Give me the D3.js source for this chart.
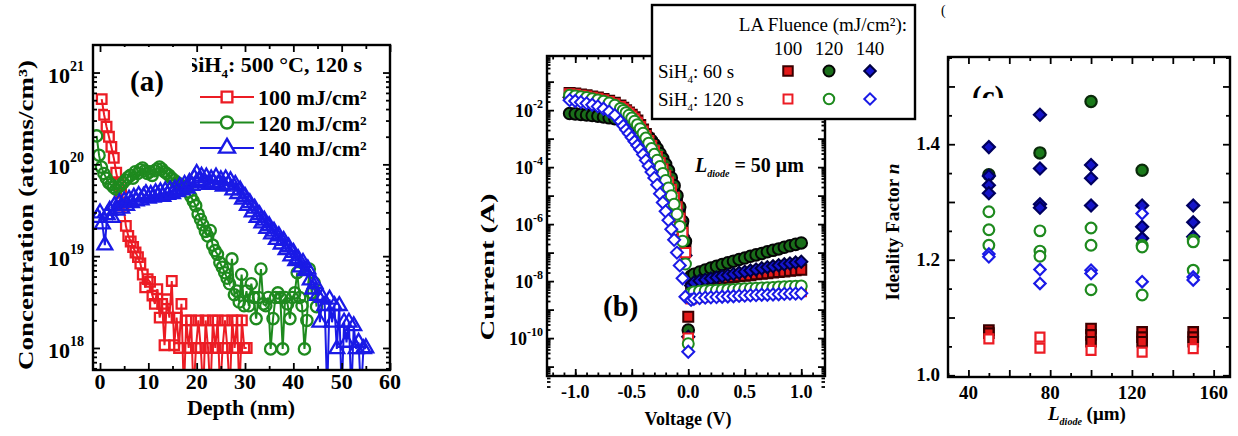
<!DOCTYPE html>
<html>
<head>
<meta charset="utf-8">
<script src="https://cdn.jsdelivr.net/npm/d3@7"></script>
<style>
  body { margin: 0; background: #fff; }
  text { font-family: "Liberation Serif", "Times New Roman", serif; }
</style>
</head>
<body>
<div id="fig"></div>
<script>
// ---------- (a) SIMS depth profiles (log10 of atoms/cm3) ----------
var depthStep = 0.5;
var red100Start = 0.35;
var red100 = [20.71,20.54,20.41,20.30,20.19,20.07,19.91,19.79,19.69,19.55,
  19.33,19.22,19.16,19.10,19.04,18.99,18.92,18.80,18.66,18.75,
  18.72,18.57,18.48,18.64,18.33,18.48,18.03,18.53,18.33,18.73,
  18.03,18.33,18.00,18.48,17.50,18.30,18.00,18.30,17.50,18.00,
  18.30,18.00,17.50,18.30,18.00,17.50,18.30,18.00,18.30,17.50,
  18.00,18.30,18.00,17.50,18.30,18.00,18.30,17.50,18.30,18.00,18.00];
var green120Start = -0.7;
var green120 = [20.31,20.10,19.97,19.90,19.85,19.80,19.78,19.75,19.73,19.75,
  19.77,19.80,19.83,19.86,19.88,19.85,19.92,19.90,19.94,19.96,
  19.93,19.90,19.92,19.88,19.93,19.95,19.97,19.95,19.92,19.90,
  19.88,19.85,19.83,19.80,19.79,19.77,19.76,19.75,19.70,19.65,
  19.60,19.55,19.46,19.40,19.34,19.27,19.22,19.28,19.12,19.06,
  19.02,18.93,18.88,18.82,18.76,18.70,18.97,18.58,18.62,18.50,
  18.80,18.46,18.62,18.46,18.70,18.55,18.32,18.55,18.86,18.48,
  18.46,18.55,17.99,18.32,18.55,18.60,18.55,17.99,18.55,18.48,
  18.32,18.55,18.60,18.82,18.55,18.46,17.99,18.30,18.86,18.60,
  18.71,18.45];
var blue140Start = -0.5;
var blue140 = [19.42,19.47,19.35,19.12,19.45,19.50,19.42,19.55,19.50,19.58,
  19.52,19.60,19.55,19.62,19.58,19.64,19.60,19.66,19.61,19.65,
  19.68,19.63,19.67,19.64,19.69,19.66,19.70,19.65,19.71,19.67,
  19.72,19.68,19.73,19.70,19.76,19.72,19.78,19.74,19.80,19.77,
  19.85,19.90,19.82,19.87,19.80,19.86,19.78,19.84,19.80,19.86,
  19.78,19.83,19.76,19.84,19.78,19.82,19.72,19.78,19.68,19.72,
  19.62,19.65,19.55,19.58,19.48,19.52,19.42,19.45,19.36,19.39,
  19.30,19.33,19.24,19.27,19.18,19.22,19.13,19.17,19.07,19.10,
  19.00,19.04,18.95,18.97,18.88,18.93,18.84,18.86,18.74,18.64,
  18.70,18.57,18.28,18.55,18.46,17.50,18.53,18.28,18.46,17.99,
  18.46,17.50,18.28,18.06,18.28,17.50,18.24,17.99,18.06,17.50,
  17.99,18.00];
var depthTicks = [0, 10, 20, 30, 40, 50, 60];
var concTicks = [18, 19, 20, 21];
var fluenceLabels = ["100 mJ/cm²", "120 mJ/cm²", "140 mJ/cm²"];

// ---------- (b) I-V curves (log10 of current in A) ----------
var volt = [-1.05,-1.0,-0.95,-0.9,-0.85,-0.8,-0.75,-0.7,-0.65,-0.6,
  -0.575,-0.55,-0.525,-0.5,-0.475,-0.45,-0.425,-0.4,-0.375,-0.35,
  -0.325,-0.3,-0.275,-0.25,-0.225,-0.2,-0.175,-0.15,-0.125,-0.1,
  -0.075,-0.05,-0.025,0,0.025,0.05,0.1,0.15,0.2,0.25,
  0.3,0.35,0.4,0.45,0.5,0.55,0.6,0.65,0.7,0.75,
  0.8,0.85,0.9,0.95,1.0];
var iv100s60 = [-1.40,-1.42,-1.45,-1.48,-1.52,-1.56,-1.61,-1.67,-1.74,-1.84,
  -1.92,-2.00,-2.08,-2.16,-2.25,-2.36,-2.52,-2.68,-2.84,-3.00,
  -3.17,-3.34,-3.53,-3.73,-3.95,-4.17,-4.40,-4.63,-4.90,-5.25,
  -5.65,-6.15,-6.85,-9.25,-8.10,-8.05,-8.02,-7.99,-7.96,-7.93,
  -7.91,-7.88,-7.86,-7.83,-7.81,-7.79,-7.76,-7.74,-7.72,-7.70,
  -7.68,-7.66,-7.64,-7.62,-7.60];
var iv120s60 = [-2.12,-2.13,-2.15,-2.17,-2.19,-2.21,-2.24,-2.27,-2.30,-2.34,
  -2.37,-2.40,-2.43,-2.47,-2.52,-2.58,-2.65,-2.74,-2.84,-2.95,
  -3.07,-3.20,-3.35,-3.52,-3.70,-3.90,-4.12,-4.37,-4.65,-5.00,
  -5.40,-5.90,-6.60,-9.72,-7.82,-7.76,-7.68,-7.61,-7.54,-7.48,
  -7.42,-7.36,-7.30,-7.24,-7.19,-7.13,-7.08,-7.03,-6.97,-6.92,
  -6.87,-6.81,-6.76,-6.71,-6.66];
var iv140s60 = [-1.55,-1.57,-1.60,-1.63,-1.67,-1.71,-1.76,-1.82,-1.90,-2.00,
  -2.07,-2.15,-2.23,-2.32,-2.42,-2.53,-2.66,-2.80,-2.96,-3.13,
  -3.31,-3.50,-3.70,-3.91,-4.13,-4.36,-4.60,-4.86,-5.15,-5.50,
  -5.90,-6.40,-7.10,-9.95,-8.15,-8.05,-7.99,-7.95,-7.91,-7.87,
  -7.83,-7.79,-7.75,-7.71,-7.67,-7.63,-7.59,-7.55,-7.51,-7.48,
  -7.44,-7.41,-7.38,-7.35,-7.32];
var iv100s120 = [-1.43,-1.45,-1.48,-1.51,-1.55,-1.59,-1.64,-1.70,-1.78,-1.88,
  -1.96,-2.04,-2.12,-2.21,-2.31,-2.43,-2.58,-2.74,-2.90,-3.07,
  -3.25,-3.43,-3.63,-3.84,-4.06,-4.29,-4.53,-4.78,-5.06,-5.40,
  -5.80,-6.30,-7.00,-10.00,-8.62,-8.58,-8.56,-8.55,-8.53,-8.52,
  -8.51,-8.50,-8.49,-8.48,-8.47,-8.46,-8.45,-8.44,-8.43,-8.42,
  -8.41,-8.40,-8.39,-8.38,-8.37];
var iv120s120 = [-1.48,-1.50,-1.53,-1.56,-1.60,-1.64,-1.69,-1.75,-1.83,-1.94,
  -2.01,-2.09,-2.18,-2.28,-2.39,-2.51,-2.65,-2.81,-2.98,-3.16,
  -3.35,-3.55,-3.76,-3.98,-4.22,-4.47,-4.73,-5.00,-5.30,-5.65,
  -6.08,-6.60,-7.40,-10.20,-8.42,-8.38,-8.36,-8.34,-8.33,-8.32,
  -8.31,-8.30,-8.29,-8.28,-8.27,-8.26,-8.25,-8.24,-8.23,-8.22,
  -8.21,-8.20,-8.19,-8.18,-8.17];
var iv140s120 = [-1.65,-1.68,-1.72,-1.76,-1.81,-1.87,-1.95,-2.05,-2.18,-2.40,
  -2.55,-2.69,-2.82,-2.96,-3.10,-3.24,-3.38,-3.56,-3.76,-3.96,
  -4.17,-4.38,-4.62,-4.93,-5.24,-5.55,-5.86,-6.18,-6.55,-7.00,
  -7.45,-7.90,-8.55,-10.48,-8.66,-8.62,-8.60,-8.58,-8.57,-8.56,
  -8.55,-8.54,-8.53,-8.52,-8.51,-8.50,-8.49,-8.48,-8.48,-8.47,
  -8.46,-8.45,-8.44,-8.44,-8.43];
var voltTicks = [-1.0, -0.5, 0.0, 0.5, 1.0];
var currTicks = [-10, -8, -6, -4, -2];
var fluences = ["100", "120", "140"];

// ---------- (c) ideality factor vs diode length ----------
var lDiode = [50, 75, 100, 125, 150];
var n100s60 = [[1.078, 1.073], [], [1.081, 1.070, 1.058], [1.075, 1.066, 1.058], [1.075, 1.066, 1.058]];
var n120s60 = [[1.347], [1.385], [1.474], [1.355], []];
var n140s60 = [[1.395, 1.345, 1.329, 1.315], [1.451, 1.358, 1.296, 1.290], [1.364, 1.341, 1.294], [1.294, 1.257, 1.237], [1.294, 1.265, 1.240]];
var n100s120 = [[1.063], [1.066, 1.047], [1.043], [1.040], [1.046]];
var n120s120 = [[1.283, 1.252, 1.225], [1.250, 1.215, 1.206], [1.255, 1.225, 1.148], [1.225, 1.222, 1.139], [1.234, 1.231, 1.182]];
var n140s120 = [[1.210, 1.205], [1.183, 1.159], [1.182, 1.176], [1.280, 1.162], [1.170, 1.165]];
var lTicks = [40, 80, 120, 160];
var nTicks = [1.0, 1.2, 1.4];

var red = "#ec1c24", green = "#1e8a1e", blue = "#1a1ae6";

var svg = d3.select("#fig").append("svg")
  .attr("width", 1238)
  .attr("height", 436);
svg.append("rect").attr("width", 1238).attr("height", 436).attr("fill", "#fff");
var defs = svg.append("defs");

function inDomain(s, vals) {
  var d = s.domain(), lo = Math.min(d[0], d[1]), hi = Math.max(d[0], d[1]);
  return vals.filter(function (v) { return v >= lo - 1e-9 && v <= hi + 1e-9; });
}

// inward ticks on all four sides
function boxTicks(g, x, y, xVals, yVals, len) {
  var b = y.range()[0], t = y.range()[1], l = x.range()[0], r = x.range()[1];
  xVals = inDomain(x, xVals);
  yVals = inDomain(y, yVals);
  var gg = g.append("g");
  gg.append("g").attr("transform", "translate(0," + b + ")")
    .call(d3.axisBottom(x).tickValues(xVals).tickSize(-len).tickFormat(""));
  gg.append("g").attr("transform", "translate(0," + t + ")")
    .call(d3.axisTop(x).tickValues(xVals).tickSize(-len).tickFormat(""));
  gg.append("g").attr("transform", "translate(" + l + ",0)")
    .call(d3.axisLeft(y).tickValues(yVals).tickSize(-len).tickFormat(""));
  gg.append("g").attr("transform", "translate(" + r + ",0)")
    .call(d3.axisRight(y).tickValues(yVals).tickSize(-len).tickFormat(""));
  gg.selectAll(".domain").remove();
  gg.selectAll(".tick line").attr("stroke", "#000").attr("stroke-width", 1.8);
}

function frame(g, x, y) {
  g.append("rect")
    .attr("x", x.range()[0]).attr("y", y.range()[1])
    .attr("width", x.range()[1] - x.range()[0])
    .attr("height", y.range()[0] - y.range()[1])
    .attr("fill", "none").attr("stroke", "#000").attr("stroke-width", 2.4);
}

function logMinors(lo, hi) {
  var out = [];
  for (var k = lo; k <= hi; k++) {
    for (var m = 2; m <= 9; m++) out.push(m * Math.pow(10, k));
  }
  return out;
}

function symbolFor(shape, size) {
  var t = shape === "tri" ? d3.symbolTriangle : shape === "circle" ? d3.symbolCircle : d3.symbolSquare;
  return d3.symbol().type(t).size(size)();
}

function marks(g, pts, shape, size, stroke, fill, sw) {
  g.selectAll(null)
    .data(pts)
    .enter()
    .append("path")
    .attr("d", symbolFor(shape, size))
    .attr("transform", function (d) {
      return "translate(" + d[0] + "," + d[1] + ")" + (shape === "diamond" ? " rotate(45)" : "");
    })
    .attr("fill", fill)
    .attr("stroke", stroke)
    .attr("stroke-width", sw);
}

function clipRect(id, x, y) {
  defs.append("clipPath").attr("id", id).append("rect")
    .attr("x", x.range()[0]).attr("y", y.range()[1])
    .attr("width", x.range()[1] - x.range()[0])
    .attr("height", y.range()[0] - y.range()[1]);
}

// ================= panel (a) =================
var ga = svg.append("g");
var ax = d3.scaleLinear().domain([-1.45, 60]).range([93, 390]);
var ay = d3.scaleLog().domain([Math.pow(10, 17.76), Math.pow(10, 21.3)]).range([370, 45]);
clipRect("clipA", ax, ay);

var simsSeries = [
  { start: red100Start, vals: red100, color: red, shape: "square", size: 92 },
  { start: green120Start, vals: green120, color: green, shape: "circle", size: 100 },
  { start: blue140Start, vals: blue140, color: blue, shape: "tri", size: 95 }
];
var pa = ga.append("g").attr("clip-path", "url(#clipA)");
simsSeries.forEach(function (s) {
  var pts = s.vals.map(function (v, i) {
    return [ax(s.start + i * depthStep), ay(Math.pow(10, v))];
  });
  pa.append("path")
    .attr("d", d3.line()(pts))
    .attr("fill", "none")
    .attr("stroke", s.color)
    .attr("stroke-width", 2);
  marks(pa, pts, s.shape, s.size, s.color, "none", 2.3);
});

boxTicks(ga, ax, ay, d3.range(0, 61, 10), concTicks.map(function (k) { return Math.pow(10, k); }), 7);
boxTicks(ga, ax, ay, d3.range(5, 61, 10), logMinors(17, 21), 4);
frame(ga, ax, ay);

depthTicks.forEach(function (t) {
  ga.append("text").attr("x", ax(t)).attr("y", 389)
    .attr("text-anchor", "middle").style("font-size", "22px").style("font-weight", "bold")
    .text(t);
});
concTicks.forEach(function (k) {
  var tx = ga.append("text").attr("x", 84).attr("y", ay(Math.pow(10, k)) + 10)
    .attr("text-anchor", "end").style("font-size", "22px").style("font-weight", "bold");
  tx.append("tspan").text("10");
  tx.append("tspan").attr("dy", -12).style("font-size", "14px").text(k);
});
ga.append("text").attr("x", 241).attr("y", 415)
  .attr("text-anchor", "middle").style("font-size", "22px").style("font-weight", "bold")
  .text("Depth (nm)");
ga.append("text")
  .attr("transform", "translate(33,215) rotate(-90)")
  .attr("text-anchor", "middle").style("font-size", "22px").style("font-weight", "bold")
  .attr("textLength", 310).attr("lengthAdjust", "spacingAndGlyphs")
  .text("Concentration (atoms/cm³)");

// legend (a)
var lt = ga.append("text").attr("x", 186).attr("y", 72)
  .style("font-size", "22px").style("font-weight", "bold");
lt.append("tspan").text("SiH");
lt.append("tspan").attr("dy", 6).style("font-size", "13px").text("4");
lt.append("tspan").attr("dy", -6).text(": 500 °C, 120 s");
simsSeries.forEach(function (s, i) {
  var yy = 97 + i * 25.5;
  ga.append("line").attr("x1", 200).attr("x2", 254).attr("y1", yy).attr("y2", yy)
    .attr("stroke", s.color).attr("stroke-width", 2.2);
  marks(ga, [[227, yy]], s.shape, s.shape === "tri" ? 110 : 115, s.color, "#fff", 2.4);
  ga.append("text").attr("x", 258).attr("y", yy + 8)
    .style("font-size", "22px").style("font-weight", "bold")
    .text(fluenceLabels[i]);
});
// label box (a)
ga.append("rect").attr("x", 108).attr("y", 47).attr("width", 84).attr("height", 63).attr("fill", "#fff");
ga.append("text").attr("x", 130).attr("y", 91)
  .style("font-size", "29px").style("font-weight", "bold").text("(a)");

// ================= panel (b) =================
var gb = svg.append("g");
var bx = d3.scaleLinear().domain([-1.25, 1.21]).range([547, 825]);
var by = d3.scaleLog().domain([Math.pow(10, -11.33), Math.pow(10, -0.1)]).range([376, 56]);
clipRect("clipB", bx, by);

var ivSeries = [
  { vals: iv100s60, shape: "square", size: 100, stroke: "#3a0000", fill: "#e41a1a" },
  { vals: iv120s60, shape: "circle", size: 105, stroke: "#050505", fill: "#1a6e1a" },
  { vals: iv140s60, shape: "diamond", size: 74, stroke: "#000040", fill: "#1515d0" },
  { vals: iv100s120, shape: "square", size: 88, stroke: red, fill: "#fff" },
  { vals: iv120s120, shape: "circle", size: 95, stroke: green, fill: "#fff" },
  { vals: iv140s120, shape: "diamond", size: 72, stroke: blue, fill: "#fff" }
];
var pb = gb.append("g").attr("clip-path", "url(#clipB)");
ivSeries.forEach(function (s) {
  var pts = s.vals.map(function (v, i) { return [bx(volt[i]), by(Math.pow(10, v))]; });
  marks(pb, pts, s.shape, s.size, s.stroke, s.fill, 2);
});

boxTicks(gb, bx, by, d3.range(-1.0, 1.01, 0.5), d3.range(-11, 0).map(function (k) { return Math.pow(10, k); }), 7);
boxTicks(gb, bx, by, d3.range(-1.2, 1.21, 0.1), logMinors(-12, -1), 3.5);
frame(gb, bx, by);

voltTicks.forEach(function (t) {
  gb.append("text").attr("x", bx(t)).attr("y", 398)
    .attr("text-anchor", "middle").style("font-size", "18px").style("font-weight", "bold")
    .text(d3.format(".1f")(t).replace("−", "-"));
});
currTicks.forEach(function (k) {
  var tx = gb.append("text").attr("x", 543).attr("y", by(Math.pow(10, k)) + 7)
    .attr("text-anchor", "end").style("font-size", "18px").style("font-weight", "bold");
  tx.append("tspan").text("10");
  tx.append("tspan").attr("dy", -9).style("font-size", "12px").text(k);
});
gb.append("text").attr("x", 688).attr("y", 425)
  .attr("text-anchor", "middle").style("font-size", "18px").style("font-weight", "bold")
  .text("Voltage (V)");
gb.append("text")
  .attr("transform", "translate(494,267) rotate(-90)")
  .attr("text-anchor", "middle").style("font-size", "18px").style("font-weight", "bold")
  .attr("textLength", 147).attr("lengthAdjust", "spacingAndGlyphs")
  .text("Current (A)");
var ld = gb.append("text").attr("x", 695).attr("y", 172)
  .style("font-size", "20px").style("font-weight", "bold");
ld.append("tspan").style("font-style", "italic").text("L");
ld.append("tspan").attr("dy", 5).style("font-style", "italic").style("font-size", "10px").text("diode");
ld.append("tspan").attr("dy", -5).text(" = 50 μm");
gb.append("text").attr("x", 603).attr("y", 316)
  .style("font-size", "29px").style("font-weight", "bold").text("(b)");

// legend box shared by (b) and (c)
var gl = svg.append("g");
gl.append("rect").attr("x", 652).attr("y", 5).attr("width", 263).attr("height", 114)
  .attr("fill", "#fff").attr("stroke", "#000").attr("stroke-width", 2.4);
gl.append("text").attr("x", 907).attr("y", 31).attr("text-anchor", "end")
  .style("font-size", "19px").text("LA Fluence (mJ/cm²):");
var legX = [788, 829, 870];
fluences.forEach(function (f, i) {
  gl.append("text").attr("x", legX[i]).attr("y", 55).attr("text-anchor", "middle")
    .style("font-size", "19px").text(f);
});
[["60 s", 78, 0], ["120 s", 106, 3]].forEach(function (row) {
  var tx = gl.append("text").attr("x", 658).attr("y", row[1]).style("font-size", "19px");
  tx.append("tspan").text("SiH");
  tx.append("tspan").attr("dy", 5).style("font-size", "11px").text("4");
  tx.append("tspan").attr("dy", -5).text(": " + row[0]);
  for (var i = 0; i < 3; i++) {
    var s = ivSeries[row[2] + i];
    marks(gl, [[legX[i], row[1] - 7]], s.shape, s.size * 0.9, s.stroke, s.fill, 2);
  }
});

// ================= panel (c) =================
var gc = svg.append("g");
var cx = d3.scaleLinear().domain([30, 168]).range([948, 1230]);
var cy = d3.scaleLinear().domain([0.997, 1.551]).range([377, 57]);

var nSeries = [
  { vals: n100s60, shape: "square", size: 90, stroke: "#3a0000", fill: "#e41a1a" },
  { vals: n120s60, shape: "circle", size: 100, stroke: "#0a2a0a", fill: "#1a7a1a" },
  { vals: n140s60, shape: "diamond", size: 72, stroke: "#000060", fill: "#1414c8" },
  { vals: n100s120, shape: "square", size: 80, stroke: red, fill: "#fff" },
  { vals: n120s120, shape: "circle", size: 90, stroke: green, fill: "#fff" },
  { vals: n140s120, shape: "diamond", size: 64, stroke: blue, fill: "#fff" }
];
nSeries.forEach(function (s) {
  var pts = [];
  s.vals.forEach(function (list, i) {
    list.forEach(function (v) { pts.push([cx(lDiode[i]), cy(v)]); });
  });
  marks(gc, pts, s.shape, s.size, s.stroke, s.fill, 2.2);
});

boxTicks(gc, cx, cy, d3.range(40, 170, 20), d3.range(1.0, 1.56, 0.1), 7);
boxTicks(gc, cx, cy, d3.range(30, 170, 20), d3.range(1.05, 1.56, 0.1), 4);
frame(gc, cx, cy);

lTicks.forEach(function (t) {
  gc.append("text").attr("x", cx(t)).attr("y", 399)
    .attr("text-anchor", "middle").style("font-size", "19px").style("font-weight", "bold")
    .text(t);
});
nTicks.forEach(function (t) {
  gc.append("text").attr("x", 940).attr("y", cy(t) + 6)
    .attr("text-anchor", "end").style("font-size", "19px").style("font-weight", "bold")
    .text(d3.format(".1f")(t));
});
var cl = gc.append("text").attr("x", 1048).attr("y", 420)
  .style("font-size", "19px").style("font-weight", "bold");
cl.append("tspan").style("font-style", "italic").text("L");
cl.append("tspan").attr("dy", 5).style("font-style", "italic").style("font-size", "10px").text("diode");
cl.append("tspan").attr("dy", -5).text(" (μm)");
var iy = gc.append("text")
  .attr("transform", "translate(899,232) rotate(-90)")
  .attr("text-anchor", "middle").style("font-size", "18px").style("font-weight", "bold")
  .attr("textLength", 137).attr("lengthAdjust", "spacingAndGlyphs");
iy.append("tspan").text("Ideality Factor ");
iy.append("tspan").style("font-style", "italic").text("n");

// partly hidden panel label
defs.append("clipPath").attr("id", "clipC").append("rect")
  .attr("x", 960).attr("y", 70).attr("width", 60).attr("height", 28);
gc.append("text").attr("x", 972).attr("y", 106).attr("clip-path", "url(#clipC)")
  .style("font-size", "29px").style("font-weight", "bold").text("(c)");
gc.append("text").attr("x", 941).attr("y", 15).style("font-size", "14px").text("(");
</script>
</body>
</html>
